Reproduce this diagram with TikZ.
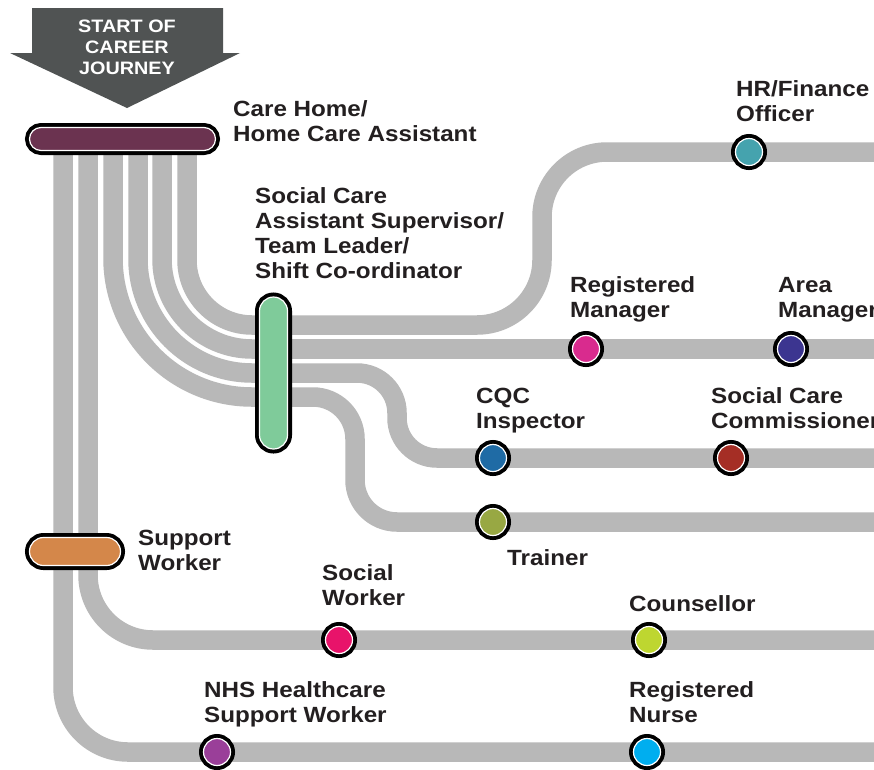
\documentclass[tikz,border=0pt]{standalone}
\usepackage{fontspec}
\setmainfont{Liberation Sans}[FakeStretch=1.1]
\usetikzlibrary{backgrounds}

\definecolor{trackgray}{HTML}{B8B8B8}
\definecolor{arrowgray}{HTML}{505353}
\definecolor{inkblack}{HTML}{231F20}
\definecolor{carehome}{HTML}{6B3350}
\definecolor{supervisor}{HTML}{7FCB9A}
\definecolor{support}{HTML}{D4874A}
\definecolor{hrcol}{HTML}{45A3AE}
\definecolor{rmcol}{HTML}{D92B8E}
\definecolor{amcol}{HTML}{3C3590}
\definecolor{cqccol}{HTML}{1F6BA5}
\definecolor{scccol}{HTML}{A52E25}
\definecolor{trcol}{HTML}{98A843}
\definecolor{socwcol}{HTML}{E8136A}
\definecolor{counscol}{HTML}{BED630}
\definecolor{nhscol}{HTML}{9A3F99}
\definecolor{rncol}{HTML}{00AEEF}

\begin{document}
\begin{tikzpicture}[x=1pt, y=-1pt, font=\bfseries\fontsize{22}{25}\selectfont, text=inkblack]

    \tikzstyle{track}=[draw=trackgray, line width=19.5pt, rounded corners=65pt]
    \tikzstyle{stop}=[circle, inner sep=0pt, minimum size=27pt, draw=white, line width=1.2pt, preaction={draw=black, line width=9pt}]
    \tikzstyle{bar}=[rectangle, inner sep=0pt, draw=white, line width=1.2pt, preaction={draw=black, line width=9pt}]
    \tikzstyle{jobtext}=[anchor=base west, align=left, inner sep=0pt]

    \useasboundingbox (0,0) rectangle (874,769);

    % start arrow
    \fill[arrowgray] (32,8) -- (223,8) -- (223,53) -- (240,53) -- (127,108) -- (10,53) -- (32,53) -- cycle;
    \node[white, align=center, inner sep=0pt, font=\bfseries\fontsize{18}{21}\selectfont] (start) at (127,47.5) {START OF\\CAREER\\JOURNEY};

    % bars
    \node[bar, fill=carehome, minimum width=186pt, minimum height=23pt, rounded corners=11.5pt] (ch) at (122.5,139) {};
    \node[bar, fill=supervisor, minimum width=28pt, minimum height=152pt, rounded corners=14pt] (sup) at (273.5,373) {};
    \node[bar, fill=support, minimum width=91pt, minimum height=28pt, rounded corners=14pt] (sw) at (75,551.5) {};

    % stops
    \foreach \n/\x/\y/\c in {hr/749/152/hrcol, rm/586/349/rmcol, am/791/349/amcol, cqc/493/458/cqccol, scc/731/458/scccol, tr/493/522/trcol, socw/339/640/socwcol, couns/649/640/counscol, nhs/217/752/nhscol, rn/647/752/rncol}
        \node[stop, fill=\c] (\n) at (\x,\y) {};

    % job titles (base = last line)
    \node[jobtext] (chl) at (233,141) {Care Home/\\Home Care Assistant};
    \node[jobtext] (supl) at (255,278) {Social Care\\Assistant Supervisor/\\Team Leader/\\Shift Co-ordinator};
    \node[jobtext] (swl) at (138,570) {Support\\Worker};
    \node[jobtext] (hrl) at (736,121) {HR/Finance\\Officer};
    \node[jobtext] (rml) at (570,317) {Registered\\Manager};
    \node[jobtext] (aml) at (778,317) {Area\\Manager};
    \node[jobtext] (cqcl) at (476,428) {CQC\\Inspector};
    \node[jobtext] (sccl) at (711,428) {Social Care\\Commissioner};
    \node[jobtext] (trl) at (507,565) {Trainer};
    \node[jobtext] (socwl) at (322,605) {Social\\Worker};
    \node[jobtext] (counsl) at (629,611) {Counsellor};
    \node[jobtext] (nhsl) at (204,722) {NHS Healthcare\\Support Worker};
    \node[jobtext] (rnl) at (629,722) {Registered\\Nurse};

    \begin{scope}[on background layer]
        \fill[white] (0,0) rectangle (874,769);
        \coordinate (edge) at (900,0);
        % lines out of the care home bar
        \draw[track] ([xshift=-59.5]ch.center) |- (nhs.center) -- (nhs.center -| edge);
        \draw[track] ([xshift=-34.5]ch.center) |- (socw.center) -- (socw.center -| edge);
        \draw[track, rounded corners=139pt] ([xshift=-9.5]ch.center) |- ([yshift=-24]sup.center);
        \draw[track, rounded corners=114pt] ([xshift=15.5]ch.center) |- (sup.center);
        \draw[track, rounded corners=90pt] ([xshift=39.5]ch.center) |- ([yshift=24]sup.center);
        \draw[track] ([xshift=64.5]ch.center) |- ([yshift=48]sup.center);
        % lines out of the supervisor bar
        \draw[track] ([yshift=48]sup.center) -| ([xshift=-207]hr.center) -- (hr.center) -- (hr.center -| edge);
        \draw[track] ([yshift=24]sup.center) -- (rm.center) -- (am.center) -- (am.center -| edge);
        \draw[track, rounded corners=40pt] (sup.center) -| ([xshift=-96]cqc.center) -- (cqc.center) -- (scc.center) -- (scc.center -| edge);
        \draw[track, rounded corners=42pt] ([yshift=-24]sup.center) -| ([xshift=-138]tr.center) -- (tr.center) -- (tr.center -| edge);
    \end{scope}

\end{tikzpicture}
\end{document}
